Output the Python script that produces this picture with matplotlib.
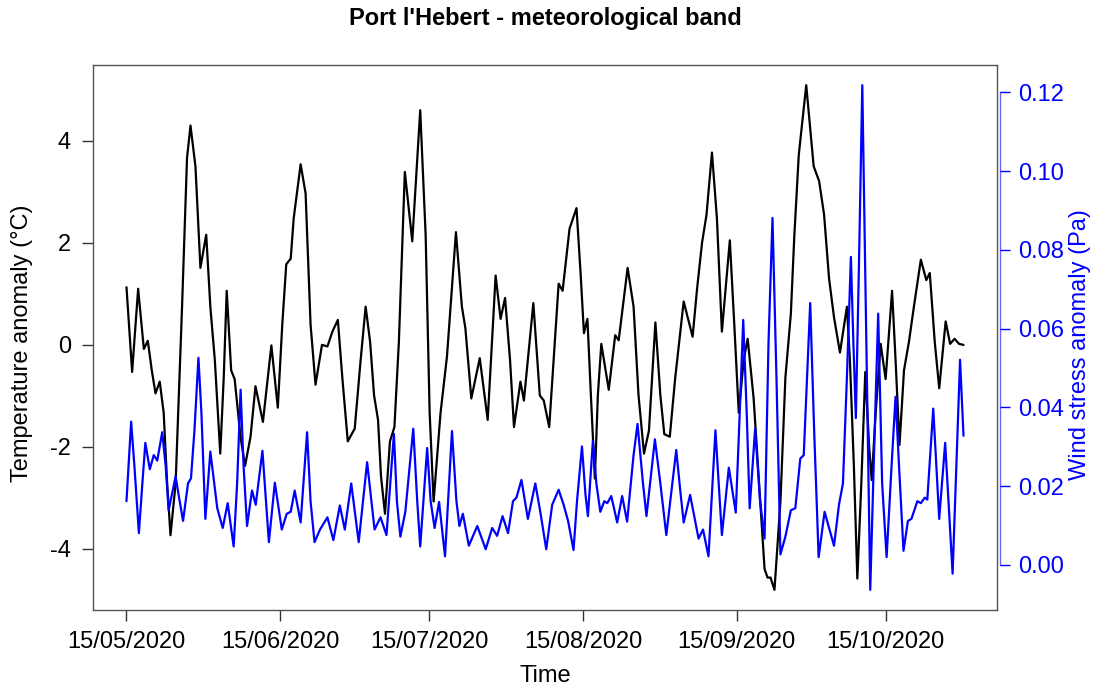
import matplotlib
matplotlib.use("Agg")
import matplotlib.pyplot as plt
import matplotlib.dates as mdates
from matplotlib.ticker import FixedLocator, FormatStrFormatter
import pandas as pd

plt.rcParams["font.family"] = ["Liberation Sans", "DejaVu Sans"]
plt.rcParams["axes.unicode_minus"] = False

start_date = pd.Timestamp("2020-05-15")

# Temperature anomaly (°C), sampled at day offsets from the start date
temp_day = [0, 1.14, 2.35, 3.5, 4.3, 5.1, 5.85, 6.7, 7.5, 8.2, 8.87, 9.9, 11.2, 12.2, 12.9,
            13.9, 14.9, 16.07, 16.9, 17.8, 18.9, 19.6, 20.2, 21.1, 21.8, 23.0, 23.9, 25.0,
            26.0, 27.5, 29.2, 30.5, 31.4, 32.2, 33.1, 33.7, 35.1, 36.1, 37.1, 38.1, 39.4,
            40.5, 41.5, 42.6, 43.5, 44.6, 46.0, 47.2, 48.2, 49.1, 49.9, 50.7, 51.3, 52.1,
            53.1, 54.0, 54.9, 56.1, 57.6, 59.2, 60.3, 61.1, 61.9, 63.3, 64.6, 66.4, 67.6,
            68.3, 69.5, 71.2, 72.8, 74.4, 75.4, 76.3, 77.3, 78.1, 79.4, 80.1, 82.0, 83.3,
            84.1, 85.2, 86.1, 87.1, 87.9, 89.3, 90.7, 91.5, 92.2, 92.9, 93.6, 94.4, 95.0,
            95.7, 97.2, 98.5, 99.2, 101.0, 102.2, 103.2, 104.3, 105.3, 106.6, 107.6, 108.4,
            109.5, 110.6, 112.3, 114.1, 115.0, 116.0, 116.9, 118.0, 119.0, 120.0, 121.6,
            122.5, 123.4, 124.4, 125.2, 126.4, 127.4, 128.6, 129.2, 129.8, 130.6, 131.8,
            132.8, 133.9, 134.6, 135.5, 137.0, 138.5, 139.6, 140.6, 141.6, 142.6, 143.8,
            145.2, 145.8, 146.6, 147.3, 148.1, 148.9, 149.7, 150.2, 151.0, 152.0, 153.0,
            154.3, 155.0, 155.8, 156.7, 157.7, 158.7, 160.1, 161.2, 161.9, 162.9, 163.8,
            165.1, 166.0, 166.9, 167.8, 168.7]
temp_anom = [1.13, -0.53, 1.10, -0.08, 0.08, -0.50, -0.95, -0.72, -1.33, -2.72, -3.73, -2.72,
             0.75, 3.66, 4.30, 3.50, 1.51, 2.16, 0.75, -0.29, -2.13, -0.64, 1.06, -0.50, -0.67,
             -1.82, -2.37, -1.80, -0.81, -1.51, -0.01, -1.23, 0.40, 1.58, 1.69, 2.48, 3.54,
             2.97, 0.40, -0.78, 0.00, -0.03, 0.26, 0.49, -0.64, -1.89, -1.64, -0.29, 0.75,
             0.06, -0.99, -1.47, -2.58, -3.31, -1.89, -1.61, 0.06, 3.39, 2.03, 4.60, 2.14,
             -1.33, -3.07, -1.33, -0.22, 2.21, 0.75, 0.33, -1.05, -0.26, -1.47, 1.36, 0.51,
             0.92, -0.29, -1.61, -0.72, -1.09, 0.82, -0.99, -1.09, -1.61, -0.29, 1.20, 1.06,
             2.28, 2.68, 1.44, 0.23, 0.51, -0.99, -2.62, -0.99, 0.02, -0.88, 0.19, 0.09, 1.51,
             0.75, -0.99, -2.13, -1.68, 0.44, -0.99, -1.75, -1.80, -0.64, 0.85, 0.16, 1.10,
             2.00, 2.55, 3.77, 2.48, 0.26, 2.05, 0.40, -1.33, -0.29, 0.12, -1.05, -2.58, -4.39,
             -4.56, -4.56, -4.80, -3.07, -0.64, 0.61, 2.14, 3.73, 5.09, 3.50, 3.21, 2.55, 1.30,
             0.54, -0.15, 0.75, -0.29, -2.37, -4.58, -2.72, -0.53, -2.03, -2.65, -1.33, 0.02,
             -0.67, 1.06, -0.29, -1.96, -0.50, 0.06, 0.75, 1.67, 1.27, 1.41, 0.06, -0.85, 0.46,
             0.02, 0.12, 0.02, 0.00]

# Wind stress anomaly (Pa), sampled at day offsets from the start date
wind_day = [0, 0.94, 1.6, 2.5, 3.2, 3.8, 4.7, 5.5, 6.2, 7.2, 7.9, 8.5, 9.9, 10.6, 11.4, 12.4,
            13.0, 13.7, 14.5, 15.1, 15.9, 16.9, 17.7, 18.3, 19.4, 20.4, 21.6, 22.3, 23.0, 23.6,
            24.3, 25.3, 26.05, 27.4, 28.7, 29.9, 31.3, 32.3, 33.1, 33.9, 35.1, 36.4, 37.1,
            37.9, 39.0, 40.5, 41.7, 43.0, 44.0, 45.3, 46.8, 48.5, 50.0, 51.2, 52.4, 53.9, 54.5,
            55.2, 56.2, 57.8, 58.6, 59.2, 60.6, 61.3, 62.1, 63.0, 64.2, 65.6, 66.5, 67.1, 67.8,
            69.0, 70.7, 72.4, 73.7, 74.7, 75.8, 76.9, 77.9, 78.6, 79.6, 80.9, 82.4, 83.4, 84.6,
            85.8, 87.1, 88.1, 89.0, 90.1, 90.8, 91.8, 92.5, 93.0, 94.0, 94.7, 95.5, 96.3, 96.9,
            97.7, 98.9, 99.9, 100.9, 102.2, 103.0, 104.1, 104.8, 106.5, 107.6, 108.8, 110.0,
            110.8, 111.6, 112.3, 113.6, 115.3, 116.2, 117.3, 118.7, 120.0, 121.4, 122.8, 123.6,
            124.3, 125.0, 125.6, 126.7, 127.7, 128.6, 129.4, 130.2, 131.0, 131.8, 132.8, 133.9,
            134.8, 135.8, 136.5, 137.8, 138.6, 139.5, 140.7, 142.6, 143.6, 144.4, 145.2, 146.0,
            146.5, 147.0, 147.6, 148.3, 149.0, 149.9, 150.7, 151.5, 152.3, 153.2, 154.2, 155.0,
            155.7, 156.6, 157.5, 158.2, 159.4, 160.1, 160.9, 161.4, 162.6, 163.8, 165.0, 166.5,
            168.0, 168.7]
wind_anom = [0.0162, 0.0364, 0.0251, 0.0081, 0.0207, 0.0310, 0.0243, 0.0279, 0.0265, 0.0337,
             0.0251, 0.0139, 0.0225, 0.0171, 0.0112, 0.0207, 0.0220, 0.0342, 0.0526, 0.0387,
             0.0117, 0.0288, 0.0207, 0.0144, 0.0094, 0.0157, 0.0047, 0.0207, 0.0445, 0.0251,
             0.0099, 0.0189, 0.0153, 0.0290, 0.0058, 0.0209, 0.0090, 0.0130, 0.0135, 0.0189,
             0.0108, 0.0337, 0.0162, 0.0058, 0.0090, 0.0121, 0.0063, 0.0151, 0.0090, 0.0207,
             0.0058, 0.0261, 0.0090, 0.0121, 0.0076, 0.0333, 0.0162, 0.0072, 0.0135, 0.0346,
             0.0162, 0.0047, 0.0297, 0.0162, 0.0094, 0.0160, 0.0022, 0.0340, 0.0162, 0.0099,
             0.0130, 0.0049, 0.0099, 0.0040, 0.0094, 0.0074, 0.0124, 0.0081, 0.0162, 0.0171,
             0.0216, 0.0117, 0.0207, 0.0135, 0.0040, 0.0153, 0.0191, 0.0153, 0.0112, 0.0038,
             0.0162, 0.0301, 0.0180, 0.0124, 0.0315, 0.0207, 0.0135, 0.0162, 0.0157, 0.0175,
             0.0108, 0.0175, 0.0110, 0.0279, 0.0358, 0.0207, 0.0124, 0.0319, 0.0207, 0.0076,
             0.0207, 0.0292, 0.0190, 0.0108, 0.0178, 0.0067, 0.0090, 0.0022, 0.0342, 0.0076,
             0.0247, 0.0133, 0.0387, 0.0622, 0.0387, 0.0144, 0.0346, 0.0162, 0.0067, 0.0566,
             0.0881, 0.0477, 0.0027, 0.0072, 0.0139, 0.0144, 0.0270, 0.0279, 0.0665, 0.0340,
             0.0020, 0.0135, 0.0049, 0.0153, 0.0207, 0.0477, 0.0782, 0.0566, 0.0373, 0.0746,
             0.1218, 0.0656, -0.0063, 0.0297, 0.0638, 0.0207, 0.0020, 0.0252, 0.0427, 0.0252,
             0.0036, 0.0112, 0.0117, 0.0162, 0.0157, 0.0171, 0.0166, 0.0397, 0.0117, 0.0310,
             -0.0022, 0.0521, 0.0328]

date_ticks = ["2020-05-15", "2020-06-15", "2020-07-15", "2020-08-15", "2020-09-15", "2020-10-15"]
temp_ticks = [-4, -2, 0, 2, 4]
wind_ticks = [0.00, 0.02, 0.04, 0.06, 0.08, 0.10, 0.12]

temp_time = start_date + pd.to_timedelta(temp_day, unit="D")
wind_time = start_date + pd.to_timedelta(wind_day, unit="D")

W, H = 1094, 690
fig = plt.figure(figsize=(W / 100, H / 100), dpi=100)
ax = fig.add_axes([93 / W, 1 - 610 / H, 904 / W, 545 / H])

ax.plot(temp_time, temp_anom, color="black", lw=1.6,
        solid_joinstyle="round", solid_capstyle="round")
ax.margins(x=0.04, y=0.04)

ax2 = ax.twinx()
ax2.plot(wind_time, wind_anom, color="blue", lw=1.6,
         solid_joinstyle="round", solid_capstyle="round")
ax2.margins(x=0.04, y=0.04)

# Plot frame in grey; the secondary axis line spans only its tick range, in blue
box_color = "#555555"
for s in ax.spines.values():
    s.set_color(box_color)
    s.set_linewidth(1.0)
for name in ("left", "top", "bottom"):
    ax2.spines[name].set_visible(False)
ax2.spines["right"].set_color("blue")
ax2.spines["right"].set_alpha(0.6)
ax2.spines["right"].set_linewidth(1.0)
ax2.spines["right"].set_position(("outward", 2))
ax2.spines["right"].set_bounds(wind_ticks[0], wind_ticks[-1])

ax.xaxis.set_major_locator(FixedLocator(mdates.date2num(pd.to_datetime(date_ticks))))
ax.xaxis.set_major_formatter(mdates.DateFormatter("%d/%m/%Y"))
ax.yaxis.set_major_locator(FixedLocator(temp_ticks))
ax2.yaxis.set_major_locator(FixedLocator(wind_ticks))
ax2.yaxis.set_major_formatter(FormatStrFormatter("%.2f"))

ax.tick_params(axis="x", direction="out", length=8, width=1, labelsize=17, pad=7, color="#333333")
ax.tick_params(axis="y", direction="out", length=8, width=1, labelsize=17, pad=8, color="#333333")
ax2.tick_params(axis="y", direction="out", length=7, width=1, labelsize=17, pad=6,
                color="blue", labelcolor="blue")

fig.text(545 / W, 1 - 18 / H, "Port l'Hebert - meteorological band", ha="center", va="center",
         fontsize=17, fontweight="bold")
fig.text(545 / W, 1 - 676 / H, "Time", ha="center", va="center", fontsize=17)
fig.text(22 / W, 1 - 343 / H, "Temperature anomaly (°C)", rotation=90, ha="center",
         va="center", fontsize=17)
fig.text(1080 / W, 1 - 345 / H, "Wind stress anomaly (Pa)", rotation=90, ha="center",
         va="center", fontsize=17, color="blue")

fig.savefig("out.png", dpi=100, facecolor="white")
